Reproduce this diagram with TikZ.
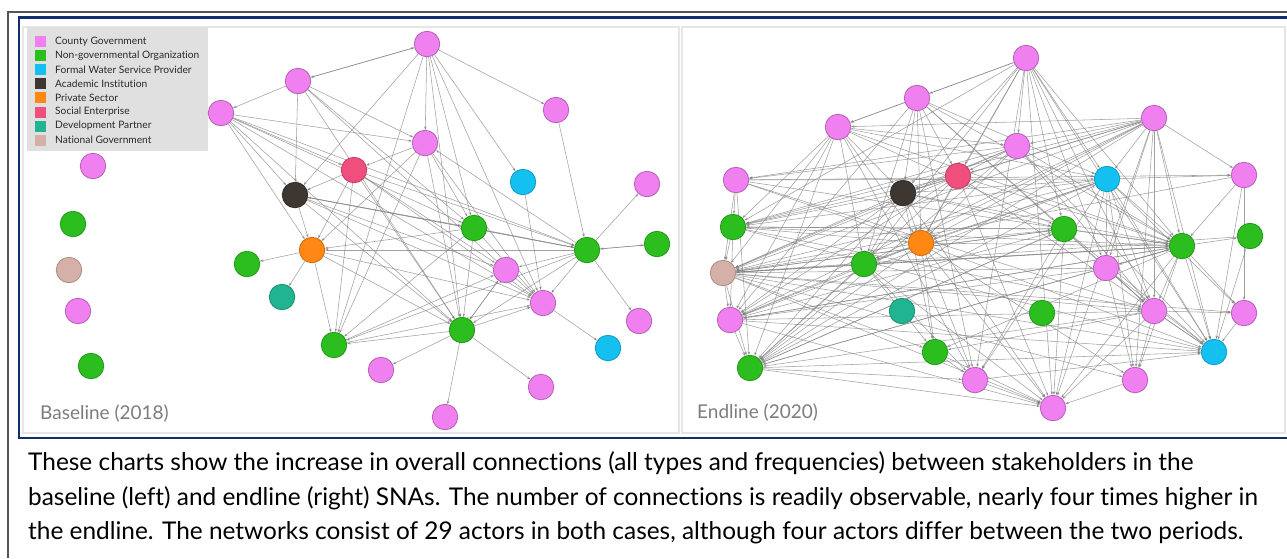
\documentclass[tikz,border=0pt]{standalone}
\usepackage{fontspec}
\setmainfont{Lato}[Ligatures=CommonOff]
\usetikzlibrary{arrows.meta}
\pgfdeclarelayer{bg}
\pgfdeclarelayer{edges}
\pgfsetlayers{bg,edges,main}
\definecolor{cpink}{RGB}{240,128,240}
\definecolor{cgreen}{RGB}{44,190,30}
\definecolor{cblue}{RGB}{20,192,240}
\definecolor{cacad}{RGB}{62,54,48}
\definecolor{corange}{RGB}{255,136,20}
\definecolor{csocial}{RGB}{240,78,124}
\definecolor{cteal}{RGB}{32,180,144}
\definecolor{cnat}{RGB}{212,176,168}
\definecolor{navy}{RGB}{16,46,110}
\definecolor{framegray}{RGB}{85,85,85}
\definecolor{edgec}{RGB}{130,130,130}
\definecolor{panelline}{RGB}{230,230,230}
\definecolor{legbg}{RGB}{224,224,224}
\definecolor{legtext}{RGB}{40,40,40}
\definecolor{labgray}{RGB}{125,125,125}
\tikzset{
  actor/.style={circle, minimum size=25.5pt, inner sep=0pt, line width=0.8pt},
  pk/.style={actor, fill=cpink, draw=cpink!75!black},
  gr/.style={actor, fill=cgreen, draw=cgreen!80!black},
  bl/.style={actor, fill=cblue, draw=cblue!80!black},
  acs/.style={actor, fill=cacad, draw=cacad!80!black},
  ors/.style={actor, fill=corange, draw=corange!80!black},
  sos/.style={actor, fill=csocial, draw=csocial!80!black},
  tes/.style={actor, fill=cteal, draw=cteal!80!black},
  nas/.style={actor, fill=cnat, draw=cnat!80!black},
  link/.style={draw=edgec, line width=0.55pt, draw opacity=0.75,
    -{Stealth[length=3.5pt,width=2.6pt]}},
  legsq/.style={minimum size=11pt, inner sep=0pt},
  legtxt/.style={anchor=west, inner sep=0pt, text=legtext, font=\fontsize{10.2}{12}\selectfont},
  panlab/.style={anchor=west, inner sep=0pt, text=labgray, font=\fontsize{19}{22}\selectfont},
  captxt/.style={anchor=base west, inner sep=0pt, text=black, font=\fontsize{24.4}{28}\selectfont}
}
\begin{document}
\begin{tikzpicture}[x=1pt,y=-1pt]
\useasboundingbox (0,0) rectangle (1287,558);
\begin{pgfonlayer}{bg}
  \fill[white] (0,0) rectangle (1287,558);
  \draw[framegray, line width=2pt] (1287,12) -- (8,12) -- (8,558);
  \draw[navy, line width=2.6pt] (1287,17.5) -- (19,17.5) -- (19,438) -- (1287,438);
  \draw[panelline, line width=2pt, fill=white] (23,27) rectangle (679,433);
  \draw[panelline, line width=2pt, fill=white] (682,27) rectangle (1285,433);
\end{pgfonlayer}

% legend
\fill[legbg] (27,27) rectangle (208,151);
\foreach \c/\t [count=\i from 0] in {cpink/County Government, cgreen/Non-governmental Organization, cblue/Formal Water Service Provider, cacad/Academic Institution, corange/Private Sector, csocial/Social Enterprise, cteal/Development Partner, cnat/National Government}{
  \node[legsq, fill=\c] (lsq\i) at (40.5,{41.5+14.1*\i}) {};
  \node[legtxt] (ltx\i) at (55,{41.5+14.1*\i}) {\t};
}

% ---------- Baseline nodes ----------
\node[pk] (p1) at (427,44) {};
\node[pk] (p2) at (298,81) {};
\node[pk] (p3) at (221,113) {};
\node[pk] (p4) at (556,110) {};
\node[pk] (p5) at (425,143) {};
\node[pk] (p6) at (93,166) {};
\node[sos] (so) at (354,170) {};
\node[bl] (b1) at (523,182) {};
\node[pk] (p7) at (647,184) {};
\node[acs] (ac) at (295,195) {};
\node[gr] (g1) at (73,224) {};
\node[gr] (g2) at (474,228) {};
\node[gr] (g3) at (587,250) {};
\node[gr] (g4) at (657,244) {};
\node[ors] (or) at (312,250) {};
\node[gr] (g5) at (247,264) {};
\node[nas] (na) at (69,270) {};
\node[tes] (te) at (282,297) {};
\node[pk] (p8) at (506,270) {};
\node[pk] (p9) at (543,303) {};
\node[pk] (p10) at (78,311) {};
\node[pk] (p11) at (639,321) {};
\node[gr] (g6) at (462,330) {};
\node[gr] (g7) at (334,345) {};
\node[bl] (b2) at (608,348) {};
\node[gr] (g8) at (91,366) {};
\node[pk] (p12) at (381,370) {};
\node[pk] (p13) at (541,387) {};
\node[pk] (p14) at (445,417) {};

% ---------- Endline nodes ----------
\node[pk] (r1) at (1026,58) {};
\node[pk] (r2) at (917,98) {};
\node[pk] (r3) at (1154,118) {};
\node[pk] (r4) at (838,127) {};
\node[pk] (r5) at (1017,146) {};
\node[pk] (r6) at (736,180) {};
\node[sos] (r7) at (958,176) {};
\node[bl] (r8) at (1107,179) {};
\node[pk] (r9) at (1244,175) {};
\node[acs] (r10) at (903,193) {};
\node[gr] (r11) at (733,227) {};
\node[gr] (r12) at (1064,229) {};
\node[ors] (r13) at (921,243) {};
\node[gr] (r14) at (1182,246) {};
\node[gr] (r15) at (1250,236) {};
\node[gr] (r16) at (864,264) {};
\node[nas] (r17) at (723,273) {};
\node[pk] (r18) at (1106,268) {};
\node[pk] (r19) at (730,320) {};
\node[tes] (r20) at (902,311) {};
\node[gr] (r21) at (1042,313) {};
\node[pk] (r22) at (1154,311) {};
\node[pk] (r23) at (1244,313) {};
\node[gr] (r24) at (935,352) {};
\node[bl] (r25) at (1214,352) {};
\node[gr] (r26) at (750,368) {};
\node[pk] (r27) at (975,380) {};
\node[pk] (r28) at (1135,380) {};
\node[pk] (r29) at (1053,408) {};

\begin{pgfonlayer}{edges}
\foreach \a/\b in {p1/p2, p2/p1, p1/p4, p1/b1, p1/p5, p1/ac, p1/g7, p1/g6, p1/g2, p1/p9,
  p2/p3, p2/ac, p2/p5, p2/g2, p2/g6, p2/p9,
  p3/p5, p3/so, p3/ac, p3/g3, p3/g6, p3/or, p3/p9, p3/g2,
  p4/g3,
  p5/so, p5/g2, p5/g6, g3/p5, p5/p9, p5/g7, p5/or,
  so/ac, so/or, so/g7, so/g6, so/g3, so/p9, so/p8,
  ac/or, ac/g2, ac/g3, ac/p9, ac/g6, ac/p8,
  or/g5, or/te, or/g7, g2/or, g3/or, or/p9, or/g6,
  g2/g3, g2/g6, g2/g7, g2/p9,
  g3/p7, g3/g4, g4/g3, g3/p11, g3/p8, g3/p9, g3/g6, g3/g7, g3/ac,
  b1/p9, p9/b2, p8/g6,
  g6/p12, g6/p14, g6/p13, g6/g7, g6/p9, g6/p8,
  g7/p9, g7/p8}
  \draw[link] (\a) -- (\b);
\foreach \a/\b in {r1/r2, r1/r4, r1/r5, r1/r7, r1/r10, r1/r13, r1/r16, r1/r8, r1/r14, r1/r22, r1/r25, r1/r27, r1/r29, r1/r11, r1/r18, r1/r12,
  r2/r4, r2/r10, r2/r13, r2/r16, r2/r7, r2/r8, r2/r14, r2/r22, r2/r27, r2/r19, r2/r12,
  r3/r4, r3/r5, r3/r6, r3/r7, r3/r8, r3/r10, r3/r11, r3/r13, r3/r14, r3/r17, r3/r18, r3/r22, r3/r25, r3/r28, r3/r29, r3/r16, r3/r19, r3/r26, r3/r9,
  r4/r5, r4/r10, r4/r13, r4/r16, r4/r17, r4/r11, r4/r8, r4/r12, r4/r14, r4/r26, r4/r27, r4/r19,
  r5/r6, r5/r7, r5/r10, r5/r13, r5/r17, r5/r14, r5/r22, r5/r25, r5/r26, r5/r11,
  r6/r8, r6/r9, r6/r11, r6/r17, r6/r13, r6/r26, r6/r14, r6/r22,
  r7/r10, r7/r13, r7/r17, r7/r19, r7/r14, r7/r25, r7/r11, r7/r26, r7/r29,
  r8/r9, r8/r10, r8/r13, r8/r14, r8/r17, r8/r18, r8/r22, r8/r25, r8/r27, r8/r28, r8/r29, r8/r11, r8/r16, r8/r19, r8/r23,
  r9/r14, r9/r17, r9/r23, r9/r25,
  r10/r13, r10/r17, r10/r11, r10/r19, r10/r26, r10/r29, r10/r24, r10/r12, r10/r14, r10/r16,
  r11/r17, r11/r19, r11/r14, r11/r13, r11/r12, r11/r22, r11/r25,
  r12/r13, r12/r17, r12/r14, r12/r22, r12/r25, r12/r29, r12/r27, r12/r11, r12/r26,
  r13/r17, r13/r19, r13/r14, r13/r16, r13/r24, r13/r27, r13/r29, r13/r25, r13/r28, r13/r26,
  r14/r15, r14/r17, r14/r18, r14/r22, r14/r23, r14/r25, r14/r29, r14/r28, r14/r19, r14/r26, r14/r24, r14/r16,
  r15/r25, r15/r17,
  r16/r17, r16/r19, r16/r24, r16/r29, r16/r26, r16/r27,
  r17/r19, r17/r22, r17/r25, r17/r26, r17/r18, r17/r28, r17/r29, r17/r23, r17/r24, r17/r12, r17/r14,
  r18/r22, r18/r25, r18/r28, r18/r19,
  r19/r26, r19/r22, r19/r25, r19/r29, r19/r14, r19/r12,
  r22/r25, r22/r23, r22/r28, r22/r29, r22/r24, r22/r26,
  r23/r25, r24/r27, r24/r29, r26/r29, r26/r27, r26/r14, r26/r8, r26/r12, r26/r25, r27/r29, r27/r25, r28/r29}
  \draw[link] (\a) -- (\b);
\end{pgfonlayer}

% panel labels
\node[panlab] (lab1) at (40,414) {Baseline (2018)};
\node[panlab] (lab2) at (697,413) {Endline (2020)};

% caption
\node[captxt] (c1) at (28,470) {These charts show the increase in overall connections (all types and frequencies) between stakeholders in the};
\node[captxt] (c2) at (28,505) {baseline (left) and endline (right) SNAs. The number of connections is readily observable, nearly four times higher in};
\node[captxt] (c3) at (28,539) {the endline. The networks consist of 29 actors in both cases, although four actors differ between the two periods.};
\end{tikzpicture}
\end{document}
